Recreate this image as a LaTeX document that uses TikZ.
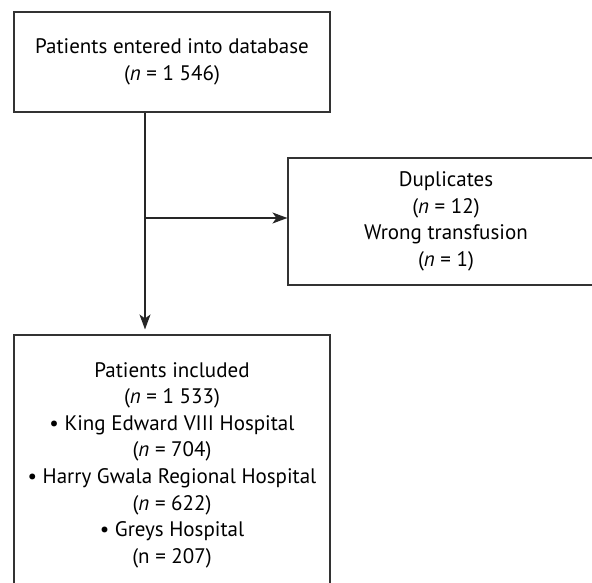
\documentclass[tikz,border=0pt]{standalone}
\usepackage{fontspec}
\setmainfont{PT Sans}
\usetikzlibrary{arrows.meta}

\begin{document}
\begin{tikzpicture}[x=1pt,y=-1pt]
			\tikzstyle{box}=[draw=black!80,line width=1.1pt,align=center,inner sep=0pt,minimum width=316pt,font=\fontsize{21}{26.6}\selectfont]
			\tikzstyle{flow}=[draw=black!85,line width=1.3pt,-{Stealth[length=15pt,width=11pt,inset=4pt]}]
			\useasboundingbox (0,0) rectangle (592,583);
			
			\node [box,minimum height=100pt] (entered) at (172,62) {Patients entered into database\\(\textit{n} = 1 546)};
			\node [box,minimum height=127pt] (excluded) at (446,221.5) {Duplicates\\(\textit{n} = 12)\\Wrong transfusion\\(\textit{n} = 1)};
			\node [box,minimum height=260pt] (included) at (172,465) {Patients included\\(\textit{n} = 1 533)\\• King Edward VIII Hospital\\(\textit{n} = 704)\\• Harry Gwala Regional Hospital\\(\textit{n} = 622)\\• Greys Hospital\\(n = 207)};
			\coordinate (split) at (145,218);
			
			\draw [flow,shorten >=5pt] (entered.south -| split) -- (included.north -| split);
			\draw [flow] (split) -- (split -| excluded.west);
\end{tikzpicture}
\end{document}
